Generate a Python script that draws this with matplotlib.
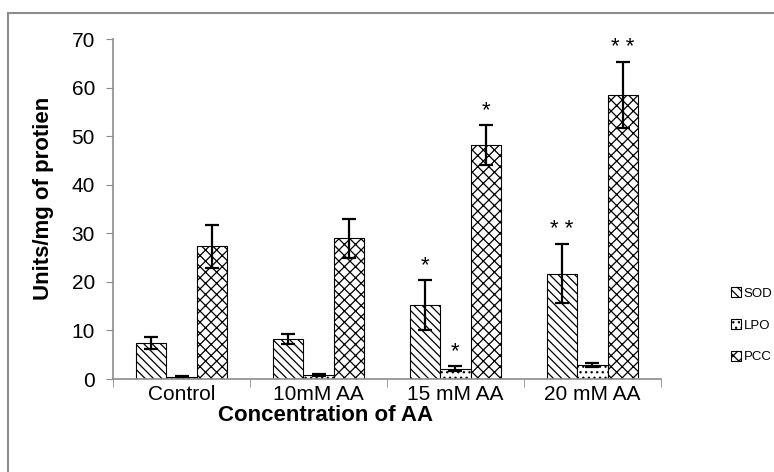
import matplotlib.pyplot as plt
import matplotlib.patches as mpatches
import numpy as np

plt.rcParams['font.family'] = ['Liberation Sans', 'DejaVu Sans']
plt.rcParams['hatch.linewidth'] = 0.9

groups = ['Control', '10mM AA', '15 mM AA', '20 mM AA']
sod = [7.4, 8.3, 15.2, 21.7]
sod_err = [1.2, 1.0, 5.2, 6.1]
lpo = [0.5, 0.8, 2.1, 2.9]
lpo_err = [0.15, 0.15, 0.5, 0.4]
pcc = [27.3, 29.0, 48.2, 58.6]
pcc_err = [4.4, 4.0, 4.1, 6.8]
sod_marks = ['', '', '*', '**']
lpo_marks = ['', '', '*', '']
pcc_marks = ['', '', '*', '**']

fig = plt.figure(figsize=(7.74, 4.72), dpi=100)
ax = fig.add_axes([0.146, 0.197, 0.708, 0.720])

# outer chart frame, cut by the figure edge on the right and bottom
frame = mpatches.Rectangle((8 / 774, -0.1), 1.1, 1 - 13 / 472 + 0.1,
                           transform=fig.transFigure, fill=False,
                           edgecolor='#8c8c8c', linewidth=1.5, clip_on=False)
fig.patches.append(frame)

x = np.arange(len(groups))
w = 0.222
series = [(sod, sod_err, sod_marks, '\\\\\\\\', 'SOD', -w),
          (lpo, lpo_err, lpo_marks, '...', 'LPO', 0),
          (pcc, pcc_err, pcc_marks, 'xxx', 'PCC', w)]

handles = []
for vals, errs, marks, hatch, name, off in series:
    ax.bar(x + off, vals, w, color='white', edgecolor='black',
           linewidth=0.8, hatch=hatch, label=name, zorder=2)
    ax.errorbar(x + off, vals, yerr=errs, fmt='none', ecolor='black',
                elinewidth=1.6, capsize=5, capthick=1.6, zorder=3)
    for xi, v, e, m in zip(x + off, vals, errs, marks):
        if m:
            ax.text(xi, v + e + 0.8, ' '.join(m), ha='center', va='bottom',
                    fontsize=16)
    handles.append(mpatches.Patch(facecolor='white', edgecolor='black',
                                  linewidth=0.8, hatch=hatch, label=name))

ax.set_xlim(-0.5, 3.5)
ax.set_ylim(0, 70)
ax.set_yticks(range(0, 71, 10))
ax.set_xticks(x)
ax.set_xticklabels(groups, fontsize=15)
ax.tick_params(axis='y', labelsize=15, length=5, pad=8, color='#8c8c8c',
               direction='out')
ax.tick_params(axis='x', length=0, pad=4)
ax.set_xticks(np.arange(-0.5, 4, 1), minor=True)
ax.tick_params(axis='x', which='minor', length=6, color='#8c8c8c')

for side in ['top', 'right']:
    ax.spines[side].set_visible(False)
for side in ['left', 'bottom']:
    ax.spines[side].set_color('#8c8c8c')
    ax.spines[side].set_linewidth(1.2)

ax.set_xlabel('Concentration of AA', fontsize=16, fontweight='bold')
ax.xaxis.set_label_coords((326 - 113) / (661 - 113), -0.075)
ax.set_ylabel('Units/mg of protien', fontsize=16, fontweight='bold')
ax.yaxis.set_label_coords(-0.108, (379 - 198) / 340)

fig.legend(handles=handles, loc='center left', bbox_to_anchor=(0.944, 0.311),
           frameon=False, fontsize=9.5, handlelength=0.8, handleheight=0.8,
           handletextpad=0.2, labelspacing=1.45, borderpad=0, borderaxespad=0)

fig.savefig('out.png', dpi=100)
